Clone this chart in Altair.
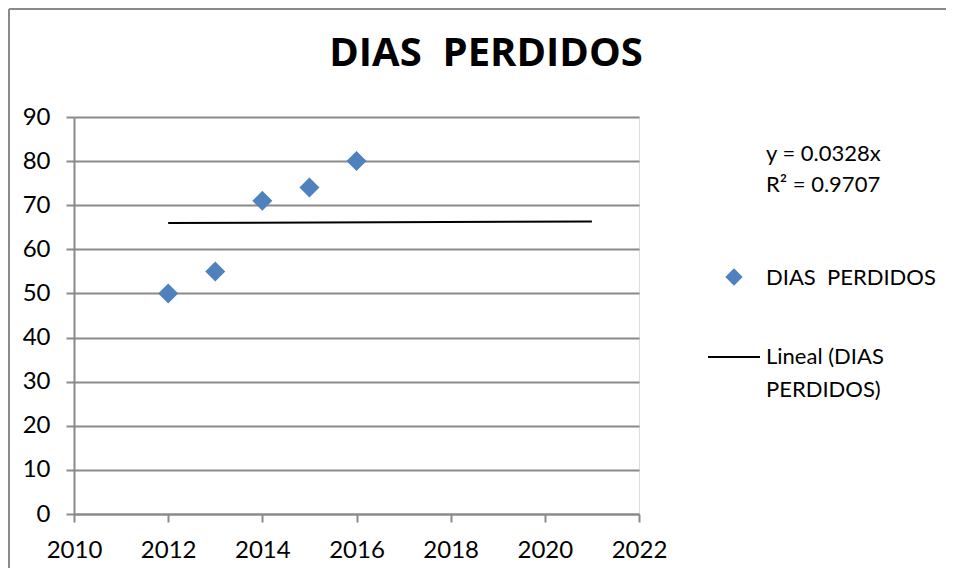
import altair as alt
import pandas as pd

# ---- data ----
years = [2012, 2013, 2014, 2015, 2016]
dias = [50, 55, 71, 74, 80]
trend_years = [2012, 2021]
trend_slope = 0.0328
x_ticks = [2010, 2012, 2014, 2016, 2018, 2020, 2022]
y_ticks = [0, 10, 20, 30, 40, 50, 60, 70, 80, 90]
title_text = "DIAS\u00a0 PERDIDOS"
series_name = "DIAS\u00a0 PERDIDOS"
eq_line1 = "y = 0.0328x"
eq_line2 = "R\u00b2 = 0.9707"
trend_label1 = "Lineal (DIAS"
trend_label2 = "PERDIDOS)"

FONT = "Lato"
GRAY = "#8a8a8a"
BLUE = "#4F81BD"
W, H = 565, 397

pts = pd.DataFrame({"year": years, "dias": dias})
trend = pd.DataFrame({"year": trend_years})
one = pd.DataFrame({"k": [0]})

xscale = alt.Scale(domain=[2010, 2022], nice=False, zero=False)
yscale = alt.Scale(domain=[0, 90], nice=False)

xaxis = alt.Axis(values=x_ticks, format="d", title=None, grid=False,
                 domainColor=GRAY, domainWidth=2, tickColor=GRAY, tickWidth=2,
                 tickSize=8, labelFont=FONT, labelFontSize=24, labelColor="black",
                 labelPadding=16, labelFlush=False, labelOverlap=False)
yaxis = alt.Axis(values=y_ticks, title=None, grid=True, gridColor=GRAY, gridWidth=2,
                 domainColor=GRAY, domainWidth=2, tickColor=GRAY, tickWidth=2,
                 tickSize=8, labelFont=FONT, labelFontSize=24, labelColor="black",
                 labelPadding=16, labelFlush=False, labelOverlap=False)

line = alt.Chart(trend).transform_calculate(
    fit=f"{trend_slope} * datum.year"
).mark_line(color="black", strokeWidth=2).encode(
    x=alt.X("year:Q", scale=xscale, axis=xaxis),
    y=alt.Y("fit:Q", scale=yscale, axis=yaxis),
)

points = alt.Chart(pts).mark_point(
    shape="diamond", filled=True, size=400, color=BLUE, opacity=1, strokeWidth=0
).encode(
    x=alt.X("year:Q", scale=xscale),
    y=alt.Y("dias:Q", scale=yscale),
)


def label(txt, x, y, size=22, weight="normal", align="left", font=FONT):
    return alt.Chart(one).mark_text(
        text=txt, font=font, fontSize=size, fontWeight=weight, align=align,
        baseline="middle", color="black"
    ).encode(x=alt.value(x), y=alt.value(y))


title = label(title_text, 412, -63, size=40, weight="bold", align="center",
              font="Open Sans")
eq1 = label(eq_line1, 692, 37)
eq2 = label(eq_line2, 692, 68)
leg1 = label(series_name, 692, 161)
leg2a = label(trend_label1, 692, 240)
leg2b = label(trend_label2, 692, 273)

leg_diamond = alt.Chart(one).mark_point(
    shape="diamond", filled=True, size=300, color=BLUE, opacity=1, strokeWidth=0
).encode(x=alt.value(660), y=alt.value(160))

leg_line = alt.Chart(one).mark_rule(color="black", strokeWidth=2).encode(
    x=alt.value(634), x2=alt.value(686), y=alt.value(240)
)

frame_left = alt.Chart(one).mark_rule(color=GRAY, strokeWidth=2).encode(
    x=alt.value(-65), y=alt.value(-108), y2=alt.value(460)
)
frame_top = alt.Chart(one).mark_rule(color=GRAY, strokeWidth=2).encode(
    x=alt.value(-65), x2=alt.value(880), y=alt.value(-108)
)

chart = alt.layer(
    line, points, title, eq1, eq2, leg1, leg2a, leg2b, leg_diamond, leg_line,
    frame_left, frame_top
).properties(
    width=W, height=H,
    padding={"left": 66, "top": 109, "right": 307, "bottom": 54},
    autosize=alt.AutoSizeParams(type="none"),
).configure_view(stroke=None).configure(background="white")

chart.save("out.html", embed_options={"renderer": "svg", "actions": False})
